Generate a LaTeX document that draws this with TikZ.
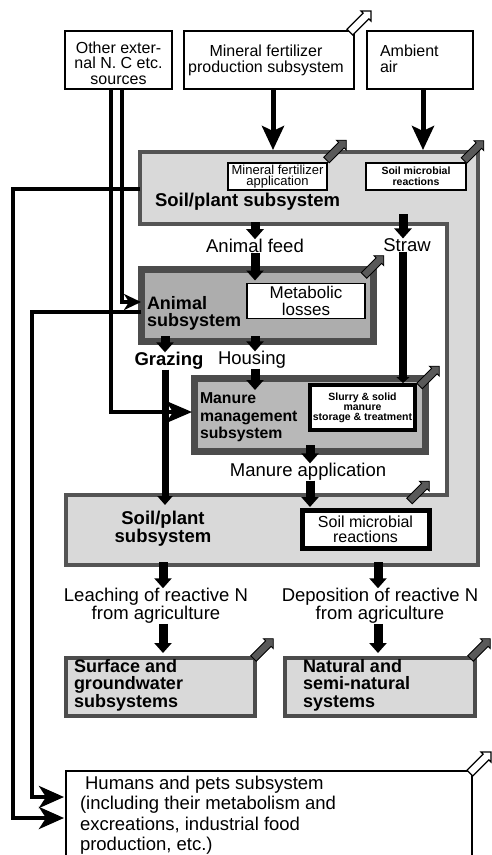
\documentclass[tikz,border=0pt]{standalone}
\usepackage{fontspec}
\setmainfont{Liberation Sans}
\usetikzlibrary{arrows.meta,shapes.arrows,calc}
\begin{document}
\begin{tikzpicture}[x=1pt,y=-1pt,
  every node/.style={inner sep=0pt,outer sep=0pt},
  topbox/.style={draw=black,line width=1.4pt,fill=white,rectangle},
  thinbox/.style={draw=black,line width=1.2pt,fill=white,rectangle},
  thickbox/.style={draw=black,line width=4.5pt,fill=white,rectangle},
  subbox/.style={draw=black!70,line width=7pt,fill=black!32,rectangle},
  endbox/.style={draw=black!70,line width=3.5pt,fill=black!15,rectangle},
  frame/.style={draw=black!67,line width=4.5pt,fill=black!15,line join=miter},
  lab/.style={font=\fontsize{18.5}{16}\selectfont,align=center},
  blab/.style={font=\bfseries\fontsize{18.5}{17}\selectfont,align=left},
  fat/.style={line width=9pt,-{Triangle[width=17pt,length=10pt]}},
  big/.style={line width=5pt,-{Stealth[width=22pt,length=24pt,inset=5pt]}},
  feed/.style={line width=4.5pt,line join=miter,-{Stealth[width=22pt,length=26pt,inset=7pt]}},
  feedsmall/.style={line width=4.5pt,line join=miter,-{Stealth[width=16pt,length=17pt,inset=5pt]}},
  ret/.style={line width=4pt,line join=miter,-{Stealth[width=22pt,length=25pt,inset=7pt]}},
  longfat/.style={line width=7pt,-{Triangle[width=15pt,length=9pt]}},
  outarr/.style={single arrow,draw=black,line width=0.9pt,fill=black!65,minimum height=28pt,single arrow head extend=3pt,inner sep=3.5pt,rotate=45},
  inarr/.style={outarr,fill=white,line width=1.2pt,minimum height=30pt},
]
\useasboundingbox (0,0) rectangle (491,855);

% ---------- outer soil/plant frame ----------
\draw[frame] (140,152) -- (478,152) -- (478,565) -- (66,565) -- (66,495)
  -- (447,495) -- (447,224) -- (140,224) -- cycle;

% ---------- top boxes ----------
\node[topbox,minimum width=107,minimum height=58] (other) at (118.5,60) {};
\node[lab,font=\fontsize{16}{15.5}\selectfont] (othert) at (118.5,63) {Other exter-\\nal N. C etc.\\sources};
\node[topbox,minimum width=170,minimum height=58] (mineral) at (269,60) {};
\node[lab,font=\fontsize{16}{16}\selectfont] (mineralt) at (266,60) {Mineral fertilizer\\production subsystem};
\node[topbox,minimum width=106,minimum height=58] (ambient) at (420,60) {};
\node[lab,font=\fontsize{16}{16}\selectfont,align=left,anchor=west] (ambientt) at (380,59) {Ambient\\air};

% ---------- top band contents ----------
\node[thinbox,minimum width=99,minimum height=27,align=center,font=\fontsize{13}{11.5}\selectfont] (mfa) at (277.5,176.5) {Mineral fertilizer\\application};
\node[thinbox,minimum width=100,minimum height=27,align=center,font=\bfseries\fontsize{10.5}{11}\selectfont] (smr1) at (416,176.5) {Soil microbial\\reactions};
\node[blab,anchor=west] (sp1) at (155,202) {Soil/plant subsystem};

% ---------- animal subsystem ----------
\node[subbox,minimum width=232,minimum height=72] (animal) at (257,305) {};
\node[thinbox,minimum width=118,minimum height=35,align=center,font=\fontsize{17}{17}\selectfont] (metab) at (306,301) {Metabolic\\losses};
\node[blab,font=\bfseries\fontsize{18}{17}\selectfont,anchor=west] (animalt) at (147,313.5) {Animal\\subsystem};

% ---------- manure subsystem ----------
\node[subbox,fill=black!28,minimum width=231,minimum height=73] (manure) at (309.5,414.5) {};
\node[thickbox,line width=4pt,minimum width=105,minimum height=45,align=center,font=\bfseries\fontsize{10.5}{10}\selectfont] (slurry) at (362.5,407.5) {Slurry \& solid\\manure\\storage \& treatment};
\node[blab,font=\bfseries\fontsize{15.8}{17.5}\selectfont,anchor=west] (manuret) at (200,417.5) {Manure\\management\\subsystem};

% ---------- lower band contents ----------
\node[blab,align=center] (sp2) at (163,528.5) {Soil/plant\\subsystem};
\node[thickbox,line width=5pt,minimum width=127,minimum height=38,align=center,font=\fontsize{16}{15}\selectfont] (smr2) at (365.5,529) {Soil microbial\\reactions};

% ---------- flow labels ----------
\node[lab] (afeed) at (255,246) {Animal feed};
\node[lab] (straw) at (407,245) {Straw};
\node[blab] (grazing) at (169,361) {Grazing};
\node[lab] (housing) at (252,360) {Housing};
\node[lab] (mapp) at (308,472) {Manure application};
\node[lab] (leach) at (156,606) {Leaching of reactive N\\from agriculture};
\node[lab] (depo) at (380,606) {Deposition of reactive N\\from agriculture};

% ---------- receiving systems ----------
\node[endbox,minimum width=189,minimum height=58] (surf) at (160.5,687) {};
\node[blab,font=\bfseries\fontsize{18}{17.5}\selectfont,anchor=west] (surft) at (74,685) {Surface and\\groundwater\\subsystems};
\node[endbox,minimum width=190,minimum height=58] (nat) at (380,687) {};
\node[blab,font=\bfseries\fontsize{18}{17.5}\selectfont,anchor=west] (natt) at (303,685) {Natural and\\semi-natural\\systems};

\node[thinbox,minimum width=406,minimum height=110,anchor=north west] (humans) at (66,771) {};
\node[lab,align=left,anchor=north west,font=\fontsize{18.5}{20.5}\selectfont] (humt) at (80,776) {\ Humans and pets subsystem\\(including their metabolism and\\excreations, industrial food\\production, etc.)};

% ---------- emission arrows ----------
\node[outarr] (o1) at (335,151.5) {};
\node[outarr] (o2) at (472.5,152) {};
\node[outarr] (o3) at (372.5,267) {};
\node[outarr] (o4) at (428,377.5) {};
\node[outarr] (o5) at (418,492.5) {};
\node[outarr] (o6) at (262,650) {};
\node[outarr] (o7) at (479,650) {};
\node[inarr] (i1) at (359,23) {};
\node[inarr] (i2) at (479,764) {};

% ---------- coordinates for connector ends ----------
\coordinate (tbtop) at (0,150);
\coordinate (tbbot) at (0,222);
\coordinate (tbleft) at (140,189);
\coordinate (lbtop) at (0,505);
\coordinate (lbbot) at (0,562);
\coordinate (sx) at (403,0);
\coordinate (gx) at (165,0);
\coordinate (hx) at (255,0);
\coordinate (mx) at (310,0);
\coordinate (lx) at (163,0);
\coordinate (dx) at (378,0);
\coordinate (cA) at (122,302);
\coordinate (cB) at (111,412);
\coordinate (cD) at (13,818);
\coordinate (cE) at (32,797);

% ---------- inputs ----------
\draw[big] ([xshift=4pt]mineral.south) -- ([xshift=4pt]mineral.south |- tbtop);
\draw[big] ([xshift=3pt]ambient.south) -- ([xshift=3pt]ambient.south |- tbtop);
\draw[feedsmall] (cA |- other.south) -- (cA) -- (cA -| animal.west);
\draw[feed] (cB |- other.south) -- (cB) -- ([xshift=-2pt]cB -| manure.west);

% ---------- internal flows ----------
\draw[fat] (hx |- tbbot) -- (hx |- afeed.north);
\draw[fat] (hx |- afeed.south) -- ([yshift=3pt]hx |- metab.north);
\draw[fat] ([yshift=-24pt]sx |- smr1.south) -- (sx |- straw.north);
\draw[line width=8pt,-{Triangle[width=13pt,length=6pt]}] (sx |- straw.south) -- ([yshift=-5pt]sx |- manure.north);
\draw[fat] ([yshift=5pt]gx |- animal.south) -- (gx |- grazing.north);
\draw[fat] ([yshift=5pt]hx |- animal.south) -- (hx |- housing.north);
\draw[longfat] (gx |- grazing.south) -- (gx |- lbtop);
\draw[fat] (hx |- housing.south) -- ([yshift=-12pt]hx |- manure.north);
\draw[fat] ([yshift=6pt]mx |- manure.south) -- (mx |- mapp.north);
\draw[fat] (mx |- mapp.south) -- ([yshift=3pt]mx |- smr2.north);
\draw[fat] (lx |- lbbot) -- (lx |- leach.north);
\draw[fat] (dx |- lbbot) -- (dx |- depo.north);
\draw[fat] (lx |- leach.south) -- ([yshift=5pt]lx |- surf.north);
\draw[fat] (dx |- depo.south) -- ([yshift=5pt]dx |- nat.north);

% ---------- returns to humans ----------
\draw[ret] (tbleft) -| (cD) -- ([xshift=-2pt]cD -| humans.west);
\draw[ret] ([yshift=-7pt]animal.west) -| (cE) -- ([xshift=-2pt]cE -| humans.west);
\end{tikzpicture}
\end{document}
